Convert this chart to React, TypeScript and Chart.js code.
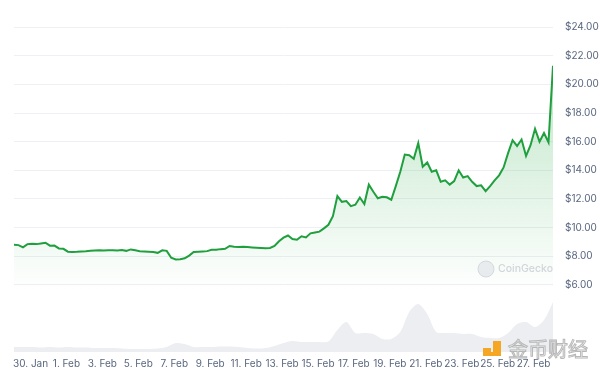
import React, { useEffect, useRef } from 'react';
import { Chart, registerables } from 'chart.js';

Chart.register(...registerables);

// Days are counted from 30 Jan 00:00
const START_DAY = -0.92;
const PRICE_STEP = 0.25;
const VOLUME_STEP = 0.5;

const PRICES = [
  8.8, 8.78, 8.62, 8.85, 8.88, 8.85, 8.9, 8.95, 8.74, 8.75,
  8.55, 8.52, 8.32, 8.3, 8.31, 8.33, 8.35, 8.38, 8.4, 8.42,
  8.4, 8.43, 8.42, 8.41, 8.44, 8.38, 8.48, 8.42, 8.36, 8.34,
  8.32, 8.3, 8.24, 8.42, 8.38, 7.9, 7.78, 7.8, 7.86, 8.05,
  8.3, 8.32, 8.34, 8.36, 8.45, 8.46, 8.5, 8.52, 8.72, 8.66,
  8.64, 8.66, 8.64, 8.62, 8.6, 8.58, 8.56, 8.58, 8.72, 9.05,
  9.3, 9.45, 9.2, 9.15, 9.4, 9.32, 9.6, 9.66, 9.72, 9.95,
  10.2, 10.8, 12.2, 11.8, 11.85, 11.5, 11.6, 12.1, 11.65, 13.0,
  12.5, 12.05, 12.15, 12.12, 11.95, 12.9, 13.9, 15.1, 15.05, 14.8,
  15.9, 14.25, 14.55, 13.9, 14.0, 13.2, 13.3, 13.0, 13.25, 14.0,
  13.5, 13.6, 13.2, 12.9, 12.95, 12.55, 12.9, 13.3, 13.65, 14.2,
  15.2, 16.1, 15.7, 16.15, 15.0, 15.75, 16.9, 16.0, 16.6, 15.95,
  21.3,
];

// Trading volume (millions USD, approximate)
const VOLUMES = [
  5, 5, 5, 4.5, 5, 4.5, 5, 4.5, 4.5, 4,
  4, 4, 3.5, 3, 3, 3, 3.5, 5, 9, 8,
  5, 5, 5, 5.5, 5.5, 5, 4, 3.5, 4, 6,
  9, 11, 10, 10, 10, 10.5, 22, 30, 19, 19,
  18, 13, 13, 20, 40, 48, 38, 20, 19, 19,
  18, 18, 15, 14, 14, 19, 28, 30, 25, 32,
  50,
];

const X_TICK_DAYS = [0, 2, 4, 6, 8, 10, 12, 14, 16, 18, 20, 22, 24, 26, 28];
const X_TICK_LABELS = [
  '30. Jan', '1. Feb', '3. Feb', '5. Feb', '7. Feb', '9. Feb', '11. Feb', '13. Feb',
  '15. Feb', '17. Feb', '19. Feb', '21. Feb', '23. Feb', '25. Feb', '27. Feb',
];
const Y_TICKS = [6, 8, 10, 12, 14, 16, 18, 20, 22, 24];

const FONT = 'Inter, "Noto Sans", sans-serif';
const TICK_COLOR = '#58667e';

const watermarkPlugin = {
  id: 'watermarks',
  afterDraw(chart: any) {
    const c = chart.ctx as CanvasRenderingContext2D;
    c.save();
    // CoinGecko watermark
    c.beginPath();
    c.arc(486, 269, 8, 0, Math.PI * 2);
    c.fillStyle = 'rgba(228,231,235,0.8)';
    c.fill();
    c.strokeStyle = 'rgba(210,213,218,0.9)';
    c.lineWidth = 1;
    c.stroke();
    c.fillStyle = 'rgba(205,208,214,0.9)';
    c.font = `500 10.5px ${FONT}`;
    c.textBaseline = 'middle';
    c.textAlign = 'left';
    c.fillText('CoinGecko', 498, 269);

    // 金币财经 logo
    c.fillStyle = '#f5a623';
    c.fillRect(483, 348, 8, 8);
    c.fillRect(493, 341, 8, 15);
    c.fillRect(486, 352, 15, 4);
    c.font = `20px "Noto Sans CJK SC", sans-serif`;
    c.textBaseline = 'middle';
    c.lineWidth = 1;
    c.fillStyle = 'rgba(255,255,255,0.85)';
    c.fillText('金币财经', 508, 349);
    c.strokeStyle = 'rgba(175,175,175,0.9)';
    c.strokeText('金币财经', 508, 349);
    c.restore();
  },
};

export default function App() {
  const ref = useRef<HTMLCanvasElement>(null);

  useEffect(() => {
    if (!ref.current) return;
    const priceData = PRICES.map((p, i) => ({ x: START_DAY + i * PRICE_STEP, y: p }));
    const volumeData = VOLUMES.map((v, i) => ({ x: START_DAY + i * VOLUME_STEP, y: v }));
    const lastDay = START_DAY + (PRICES.length - 1) * PRICE_STEP;

    const chart = new Chart(ref.current, {
      type: 'line',
      data: {
        datasets: [
          {
            label: 'Price',
            data: priceData,
            yAxisID: 'y',
            borderColor: '#1f9f3d',
            borderWidth: 2,
            pointRadius: 0,
            tension: 0,
            fill: 'start',
            order: 1,
            backgroundColor: (ctx: any) => {
              const { chart } = ctx;
              const area = chart.chartArea;
              if (!area) return 'rgba(0,0,0,0)';
              const g = chart.ctx.createLinearGradient(0, area.top + 50, 0, 292);
              g.addColorStop(0, 'rgba(40,170,70,0.30)');
              g.addColorStop(1, 'rgba(40,170,70,0)');
              return g;
            },
          },
          {
            label: 'Volume',
            data: volumeData,
            yAxisID: 'y1',
            borderWidth: 0,
            borderColor: 'rgba(0,0,0,0)',
            pointRadius: 0,
            tension: 0.3,
            fill: 'origin',
            backgroundColor: '#eceef2',
            order: 2,
          },
        ],
      },
      options: {
        animation: false,
        responsive: false,
        maintainAspectRatio: false,
        layout: { padding: { left: 14, right: 0, top: 10, bottom: 0 } },
        plugins: { legend: { display: false }, tooltip: { enabled: false } },
        scales: {
          x: {
            type: 'linear',
            min: START_DAY,
            max: lastDay,
            grid: { display: false, drawTicks: false },
            border: { display: false },
            afterBuildTicks: (s: any) => {
              s.ticks = X_TICK_DAYS.map((v) => ({ value: v }));
            },
            afterFit: (s: any) => {
              s.height = 21;
              s.paddingLeft = 0;
              s.paddingRight = 0;
            },
            ticks: {
              autoSkip: false,
              maxRotation: 0,
              padding: 6,
              color: TICK_COLOR,
              font: { size: 10, family: FONT },
              callback: (_v: any, i: number) => X_TICK_LABELS[i],
            },
          },
          y: {
            position: 'right',
            min: 1.32,
            max: 25.19,
            afterBuildTicks: (s: any) => {
              s.ticks = Y_TICKS.map((v) => ({ value: v }));
            },
            afterFit: (s: any) => {
              s.width = 47;
              s.paddingTop = 0;
              s.paddingBottom = 0;
            },
            grid: { color: '#eef0f3', drawTicks: false },
            border: { display: false },
            ticks: {
              padding: 12,
              color: TICK_COLOR,
              font: { size: 10, family: FONT },
              callback: (v: any) => '$' + Number(v).toFixed(2),
            },
          },
          y1: { display: false, min: 0, max: 342 },
        },
      },
      plugins: [watermarkPlugin],
    } as any);
    return () => chart.destroy();
  }, []);

  return (
    <div style={{ position: 'absolute', left: 0, top: 0, width: 600, height: 373, background: '#fff' }}>
      <canvas ref={ref} width={600} height={373} style={{ width: 600, height: 373 }} />
    </div>
  );
}
